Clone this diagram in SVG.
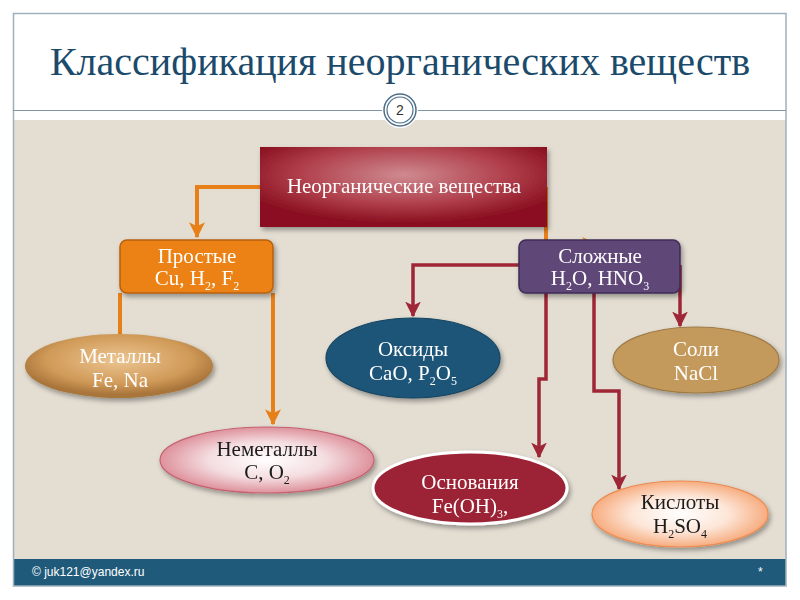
<svg xmlns="http://www.w3.org/2000/svg" width="800" height="600" viewBox="0 0 800 600">
<defs>
<style>
.t{font-family:"Liberation Serif","DejaVu Serif",serif;font-size:21px;text-anchor:middle;fill:#fff}
.ttl{font-family:"Liberation Serif","DejaVu Serif",serif;font-size:40px;text-anchor:middle;fill:#1b4a6b}
.sans{font-family:"Liberation Sans",Arial,sans-serif;fill:#fff;font-size:12px}
.dk{fill:#1a1a1a}
.sub{font-size:12px}
.or{fill:none;stroke:#e8801a;stroke-width:4}
.rd{fill:none;stroke:#9e2636;stroke-width:3.5}
</style>
<radialGradient id="gTop" cx="0.5" cy="0.35" r="0.6">
<stop offset="0" stop-color="#cf8a90"/><stop offset="0.6" stop-color="#b0404c"/><stop offset="1" stop-color="#8a1020"/>
</radialGradient>
<radialGradient id="gMet" cx="0.5" cy="0.4" r="0.55">
<stop offset="0" stop-color="#ecc592"/><stop offset="0.7" stop-color="#d09a58"/><stop offset="1" stop-color="#a8743a"/>
</radialGradient>
<radialGradient id="gNem" cx="0.5" cy="0.5" r="0.55">
<stop offset="0" stop-color="#ffffff"/><stop offset="0.5" stop-color="#f4dde0"/><stop offset="1" stop-color="#d9818d"/>
</radialGradient>
<radialGradient id="gKis" cx="0.5" cy="0.5" r="0.55">
<stop offset="0" stop-color="#ffffff"/><stop offset="0.5" stop-color="#fde6d8"/><stop offset="1" stop-color="#f5a06c"/>
</radialGradient>
<filter id="sh" x="-20%" y="-20%" width="140%" height="150%">
<feDropShadow dx="2" dy="3" stdDeviation="2.5" flood-color="#000" flood-opacity="0.35"/>
</filter>
<marker id="ao" viewBox="0 0 12 12" refX="11" refY="6" markerWidth="4" markerHeight="4" orient="auto" markerUnits="strokeWidth">
<path d="M0,0 L12,6 L0,12 L3,6 z" fill="#e8801a"/>
</marker>
<marker id="ar" viewBox="0 0 12 12" refX="11" refY="6" markerWidth="4.5" markerHeight="4.5" orient="auto" markerUnits="strokeWidth">
<path d="M0,0 L12,6 L0,12 L3,6 z" fill="#9e2636"/>
</marker>
</defs>

<rect width="800" height="600" fill="#fff"/>
<rect x="13" y="120" width="773" height="439" fill="#e3ddd2"/>
<rect x="13" y="559" width="773" height="27" fill="#1f5a7a"/>
<rect x="13.5" y="13.5" width="772.5" height="572.5" fill="none" stroke="#9fb0bd" stroke-width="1.5"/>
<line x1="13" y1="110.5" x2="786" y2="110.5" stroke="#7f95a5" stroke-width="1.2"/>

<g id="title">
<text class="ttl" x="400" y="75">Классификация неорганических веществ</text>
</g>
<g id="slide-number">
<circle cx="400" cy="110" r="18" fill="#fff"/>
<circle cx="400" cy="110" r="16" fill="#fff" stroke="#4d6f8a" stroke-width="1.5"/>
<circle cx="400" cy="110" r="13" fill="#fff" stroke="#4d6f8a" stroke-width="1.2"/>
<text class="sans" x="400" y="115" style="font-size:14px;fill:#333;text-anchor:middle">2</text>
</g>

<g id="connectors">
<path class="or" d="M261,187 H197 V237" marker-end="url(#ao)"/>
<path class="or" d="M546,187 V245 H597" marker-end="url(#ao)"/>
<path class="or" d="M120,293 V334"/>
<path class="or" d="M273,293 V424" marker-end="url(#ao)"/>
<path class="rd" d="M520,265 H413 V316" marker-end="url(#ar)"/>
<path class="rd" d="M546,292 V379 H539 V457" marker-end="url(#ar)"/>
<path class="rd" d="M594,292 V391 H619 V489" marker-end="url(#ar)"/>
<path class="rd" d="M680,265 V326" marker-end="url(#ar)"/>
</g>

<g id="inorganic" filter="url(#sh)">
<rect x="260" y="147" width="287" height="80" fill="url(#gTop)"/>
<text class="t" x="404" y="193">Неорганические вещества</text>
</g>

<g id="simple" filter="url(#sh)">
<rect x="120" y="240" width="153" height="53" rx="7" fill="#ec8212" stroke="#b8600e" stroke-width="1.5"/>
<text class="t" x="197" y="263">Простые</text>
<text class="t" x="197" y="285">Cu, H<tspan class="sub" dy="5">2</tspan><tspan dy="-5">, F</tspan><tspan class="sub" dy="5">2</tspan></text>
</g>

<g id="complex" filter="url(#sh)">
<rect x="519" y="240" width="161" height="53" rx="7" fill="#5e4678" stroke="#3f2d55" stroke-width="1.5"/>
<text class="t" x="600" y="263">Сложные</text>
<text class="t" x="600" y="285">H<tspan class="sub" dy="5">2</tspan><tspan dy="-5">O, HNO</tspan><tspan class="sub" dy="5">3</tspan></text>
</g>

<g id="metals" filter="url(#sh)">
<ellipse cx="119" cy="366" rx="94" ry="32" fill="url(#gMet)"/>
<text class="t" x="120" y="363">Металлы</text>
<text class="t" x="120" y="387">Fe,  Na</text>
</g>

<g id="nonmetals" filter="url(#sh)">
<ellipse cx="267" cy="460" rx="107" ry="33" fill="url(#gNem)" stroke="#c5606e" stroke-width="1.2"/>
<text class="t dk" x="267" y="456">Неметаллы</text>
<text class="t dk" x="267" y="479">C, O<tspan class="sub" dy="5">2</tspan></text>
</g>

<g id="oxides" filter="url(#sh)">
<ellipse cx="413" cy="358" rx="87" ry="40" fill="#1d5577" stroke="#164460" stroke-width="1.2"/>
<text class="t" x="413" y="356">Оксиды</text>
<text class="t" x="413" y="380">CaO, P<tspan class="sub" dy="5">2</tspan><tspan dy="-5">O</tspan><tspan class="sub" dy="5">5</tspan></text>
</g>

<g id="salts" filter="url(#sh)">
<ellipse cx="696" cy="360" rx="83" ry="33" fill="#c49a5c" stroke="#9e7a44" stroke-width="1.2"/>
<text class="t" x="696" y="356">Соли</text>
<text class="t" x="696" y="380">NaCl</text>
</g>

<g id="bases" filter="url(#sh)">
<ellipse cx="470" cy="488" rx="97" ry="36" fill="#9c2334" stroke="#fff" stroke-width="3"/>
<text class="t" x="470" y="489">Основания</text>
<text class="t" x="470" y="513">Fe(OH)<tspan class="sub" dy="5">3</tspan><tspan dy="-5">,</tspan></text>
</g>

<g id="acids" filter="url(#sh)">
<ellipse cx="680" cy="514" rx="88" ry="33" fill="url(#gKis)" stroke="#ec8a50" stroke-width="1.2"/>
<text class="t dk" x="680" y="509">Кислоты</text>
<text class="t dk" x="680" y="533">H<tspan class="sub" dy="5">2</tspan><tspan dy="-5">SO</tspan><tspan class="sub" dy="5">4</tspan></text>
</g>

<g id="footer">
<text class="sans" x="32" y="576">©  juk121@yandex.ru</text>
<text class="sans" x="758" y="576">*</text>
</g>
</svg>
